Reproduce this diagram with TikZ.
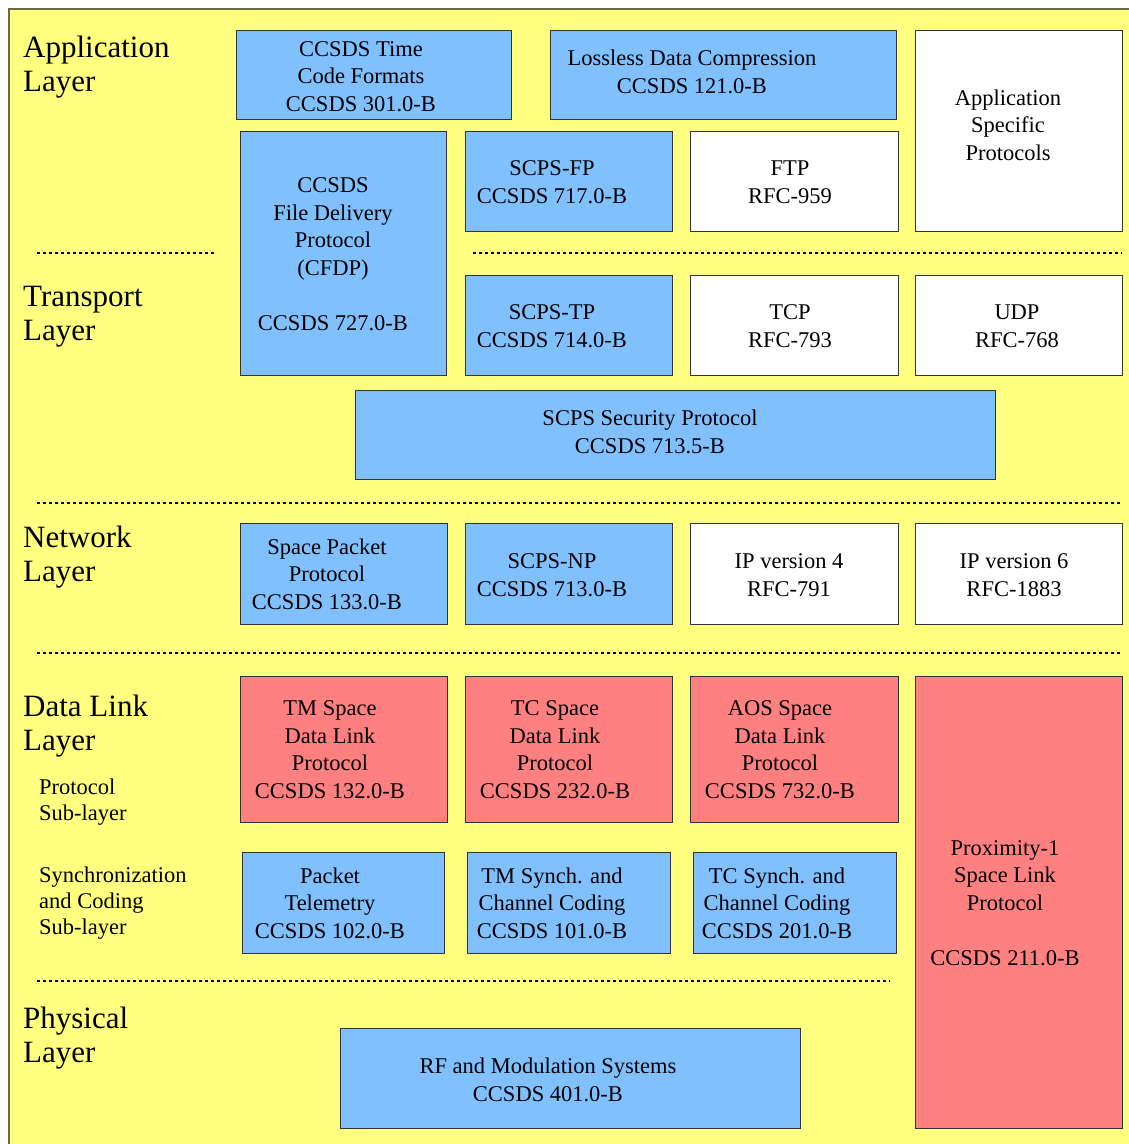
\documentclass[tikz,border=0pt]{standalone}
\usepackage{fontspec}
\setmainfont{Liberation Serif}
\usetikzlibrary{positioning}

\definecolor{paneYellow}{HTML}{FFFF80}
\definecolor{frameOlive}{HTML}{6B6B40}
\definecolor{ccsdsBlue}{HTML}{80C0FF}
\definecolor{linkRed}{HTML}{FF8080}

\begin{document}
\begin{tikzpicture}[
        x=1pt, y=-1pt,
        box/.style={draw=black!80, line width=0.9pt},
        ccsds/.style={box, fill=ccsdsBlue},
        other/.style={box, fill=white},
        link/.style={box, fill=linkRed},
        txt/.style={anchor=base, align=center, inner sep=0pt,
            font=\fontsize{22.5}{27.5}\selectfont},
        layer/.style={anchor=base west, align=left, inner sep=0pt,
            font=\fontsize{31}{34}\selectfont},
        sublayer/.style={anchor=base west, align=left, inner sep=0pt,
            font=\fontsize{22.5}{26}\selectfont},
        sep/.style={line width=2.5pt, dash pattern=on 2.5pt off 3.5pt}
    ]
    \useasboundingbox (0,0) rectangle (1129,1144);

    % Background pane
    \fill[paneYellow] (9,9) rectangle (1129,1144);
    \draw[frameOlive, line width=1.5pt] (9,1144) -- (9,9) -- (1129,9);

    % Layer names (anchored at the last line)
    \node[layer] (lapp) at (23,91) {Application\\Layer};
    \node[layer] (ltra) at (23,340) {Transport\\Layer};
    \node[layer] (lnet) at (23,581) {Network\\Layer};
    \node[layer] (ldl) at (23,750) {Data Link\\Layer};
    \node[sublayer] (lproto) at (39,820) {Protocol\\Sub-layer};
    \node[sublayer] (lsync) at (39,934) {Synchronization\\and Coding\\Sub-layer};
    \node[layer] (lphy) at (23,1062) {Physical\\Layer};

    % Layer separators
    \draw[sep] (37,253) -- (215,253);
    \draw[sep] (473,253) -- (1122,253);
    \draw[sep] (37,503) -- (1122,503);
    \draw[sep] (37,653) -- (1122,653);
    \draw[sep] (37,981) -- (890,981);

    % Application layer
    \draw[ccsds] (236,30) rectangle (511,119);
    \node[txt] (tcf) at (361,111) {CCSDS Time\\Code Formats\\CCSDS 301.0-B};
    \draw[ccsds] (550,30) rectangle (896,119);
    \node[txt] (ldc) at (692,93) {Lossless Data Compression\\CCSDS 121.0-B};
    \draw[other] (915,30) rectangle (1122,231);
    \node[txt] (asp) at (1008,160) {Application\\Specific\\Protocols};
    \draw[ccsds] (240,131) rectangle (446,375);
    \node[txt] (cfdp) at (333,330) {CCSDS\\File Delivery\\Protocol\\(CFDP)\\[27.5pt]CCSDS 727.0-B};
    \draw[ccsds] (465,131) rectangle (672,231);
    \node[txt] (fp) at (552,203) {SCPS-FP\\CCSDS 717.0-B};
    \draw[other] (690,131) rectangle (898,231);
    \node[txt] (ftp) at (790,203) {FTP\\RFC-959};

    % Transport layer
    \draw[ccsds] (465,275) rectangle (672,375);
    \node[txt] (tp) at (552,347) {SCPS-TP\\CCSDS 714.0-B};
    \draw[other] (690,275) rectangle (898,375);
    \node[txt] (tcp) at (790,347) {TCP\\RFC-793};
    \draw[other] (915,275) rectangle (1122,375);
    \node[txt] (udp) at (1017,347) {UDP\\RFC-768};
    \draw[ccsds] (355,390) rectangle (995,479);
    \node[txt] (sp) at (650,453) {SCPS Security Protocol\\CCSDS 713.5-B};

    % Network layer
    \draw[ccsds] (240,523) rectangle (447,624);
    \node[txt] (spp) at (327,609) {Space Packet\\Protocol\\CCSDS 133.0-B};
    \draw[ccsds] (465,523) rectangle (672,624);
    \node[txt] (np) at (552,596) {SCPS-NP\\CCSDS 713.0-B};
    \draw[other] (690,523) rectangle (898,624);
    \node[txt] (ipv4) at (789,596) {IP version 4\\RFC-791};
    \draw[other] (915,523) rectangle (1122,624);
    \node[txt] (ipv6) at (1014,596) {IP version 6\\RFC-1883};

    % Data link layer
    \draw[link] (240,676) rectangle (447,822);
    \node[txt] (tmdl) at (330,798) {TM Space\\Data Link\\Protocol\\CCSDS 132.0-B};
    \draw[link] (465,676) rectangle (672,822);
    \node[txt] (tcdl) at (555,798) {TC Space\\Data Link\\Protocol\\CCSDS 232.0-B};
    \draw[link] (690,676) rectangle (898,822);
    \node[txt] (aosdl) at (780,798) {AOS Space\\Data Link\\Protocol\\CCSDS 732.0-B};
    \draw[link] (915,676) rectangle (1122,1128);
    \node[txt] (prox) at (1005,965) {Proximity-1\\Space Link\\Protocol\\[27.5pt]CCSDS 211.0-B};
    \draw[ccsds] (242,852) rectangle (444,953);
    \node[txt] (pt) at (330,938) {Packet\\Telemetry\\CCSDS 102.0-B};
    \draw[ccsds] (467,852) rectangle (670,953);
    \node[txt] (tmsc) at (552,938) {TM Synch. and\\Channel Coding\\CCSDS 101.0-B};
    \draw[ccsds] (693,852) rectangle (896,953);
    \node[txt] (tcsc) at (777,938) {TC Synch. and\\Channel Coding\\CCSDS 201.0-B};

    % Physical layer
    \draw[ccsds] (340,1028) rectangle (800,1128);
    \node[txt] (rf) at (548,1101) {RF and Modulation Systems\\CCSDS 401.0-B};

\end{tikzpicture}
\end{document}
